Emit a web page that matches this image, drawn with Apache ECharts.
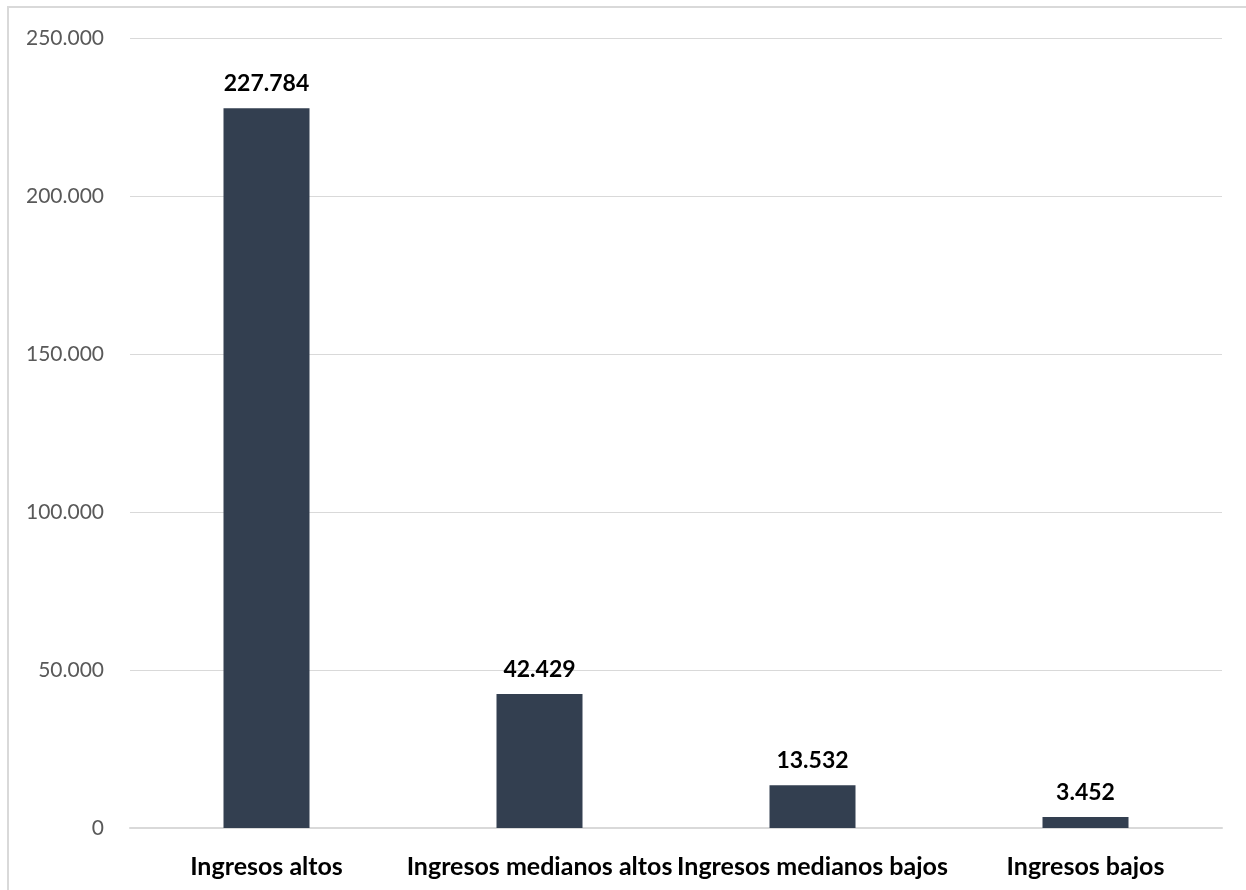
<!DOCTYPE html>
<html>
<head>
<meta charset="utf-8">
<script src="https://cdn.jsdelivr.net/npm/echarts@6/dist/echarts.min.js"></script>
<style>
html,body{margin:0;padding:0;background:#fff;}
#chart{width:1246px;height:890px;}
</style>
</head>
<body>
<div id="chart"></div>
<script>
const categories = ["Ingresos altos", "Ingresos medianos altos", "Ingresos medianos bajos", "Ingresos bajos"];
const values = [227784, 42429, 13532, 3452];
const yTicks = [0, 50000, 100000, 150000, 200000, 250000];

function fmt(v) {
  return String(v).replace(/\B(?=(\d{3})+(?!\d))/g, ".");
}

const chart = echarts.init(document.getElementById('chart'), null, {renderer: 'canvas'});
chart.setOption({
  animation: false,
  backgroundColor: '#ffffff',
  graphic: [{
    type: 'rect',
    shape: {x: 8, y: 7, width: 1250, height: 900},
    style: {fill: 'none', stroke: '#d9d9d9', lineWidth: 2},
    silent: true
  }],
  grid: {left: 130, right: 24, top: 38, bottom: 62, containLabel: false},
  xAxis: {
    type: 'category',
    data: categories,
    axisTick: {show: false},
    axisLine: {show: true, lineStyle: {color: '#d9d9d9', width: 2}},
    axisLabel: {
      color: '#000000', fontSize: 25, fontWeight: 'bold',
      fontFamily: 'Lato, "Open Sans", sans-serif', margin: 26, interval: 0
    }
  },
  yAxis: {
    type: 'value',
    min: yTicks[0],
    max: yTicks[yTicks.length - 1],
    interval: 50000,
    axisLine: {show: false},
    axisTick: {show: false},
    splitLine: {lineStyle: {color: '#d9d9d9', width: 1}},
    axisLabel: {
      color: '#595959', fontSize: 21, fontFamily: 'Lato, "Open Sans", sans-serif',
      margin: 26, formatter: v => fmt(v)
    }
  },
  series: [{
    type: 'bar',
    data: values,
    barWidth: 86,
    itemStyle: {color: '#333f50'},
    label: {
      show: true, position: 'top', distance: 13,
      color: '#000000', fontSize: 23, fontWeight: 'bold',
      fontFamily: 'Lato, "Open Sans", sans-serif',
      formatter: p => fmt(p.value)
    }
  }]
});
</script>
</body>
</html>
